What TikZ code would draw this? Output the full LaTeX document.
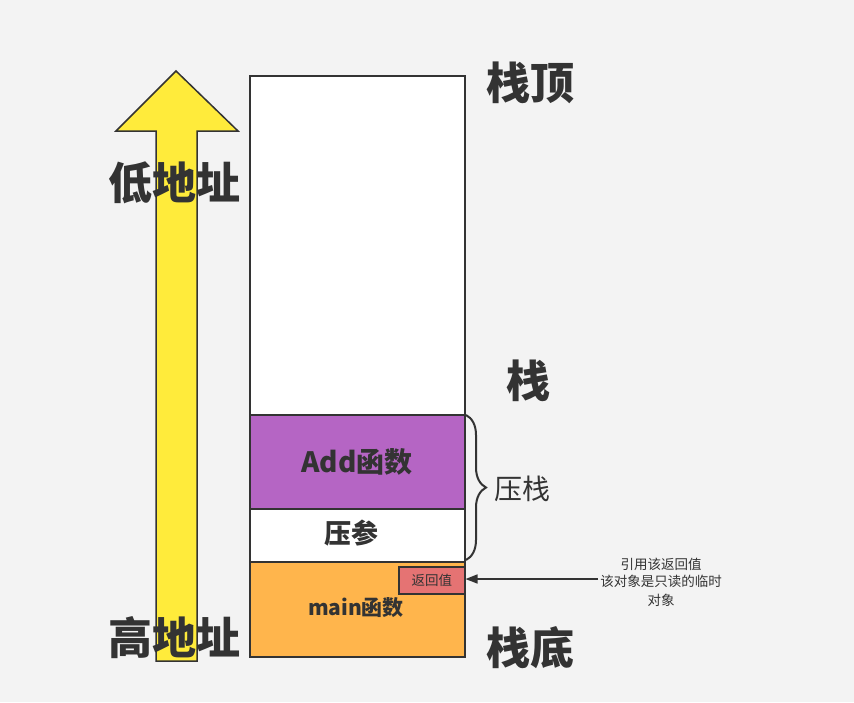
\documentclass[tikz,border=0pt]{standalone}
\usepackage{fontspec}
\setmainfont{Noto Sans CJK SC}
\usetikzlibrary{decorations.pathreplacing,arrows.meta}
\definecolor{bg}{HTML}{F3F3F3}
\definecolor{ink}{HTML}{333333}
\definecolor{arrowyellow}{HTML}{FFEB3B}
\definecolor{addpurple}{HTML}{B565C4}
\definecolor{mainorange}{HTML}{FFB54C}
\definecolor{retred}{HTML}{E57373}
\newcommand{\fs}[1]{\fontsize{#1}{#1}\selectfont}
\tikzset{
  frame/.style={draw=ink, line width=2pt, minimum width=215pt, inner sep=0pt, anchor=north west},
  biglabel/.style={text=ink, font=\fs{44}\bfseries, inner sep=0pt},
  boxlabel/.style={text=ink, font=\fs{27}\bfseries, inner sep=0pt},
  note/.style={text=ink, font=\fs{13.5}, inner sep=0pt, align=center}
}
\begin{document}
\begin{tikzpicture}[x=1pt,y=-1pt]
  \fill[bg] (0,0) rectangle (854,702);
  \useasboundingbox (0,0) rectangle (854,702);

  % direction arrow: from high address up to low address
  \draw[ink, line width=1.5pt, fill=arrowyellow, line join=miter]
    (176,71) -- (238,131) -- (197,131) -- (197,661) -- (156,661) -- (156,131) -- (116,131) -- cycle;

  % stack frame regions
  \node[frame, fill=white, minimum height=339pt] (free) at (249,75) {};
  \node[frame, fill=addpurple, minimum height=94pt] (add) at (249,414) {};
  \node[frame, fill=white, minimum height=53pt] (param) at (249,508) {};
  \node[frame, fill=mainorange, minimum height=95pt] (main) at (249,561) {};
  \node[draw=ink, line width=1.5pt, fill=retred, minimum width=66pt, minimum height=27pt,
        inner sep=0pt, anchor=north west, text=ink, font=\fs{13.5}] (ret) at (398,566) {返回值};

  \node[boxlabel, font=\fs{28}\bfseries] at (357,462) {Add函数};
  \node[boxlabel] at (351,533) {压参};
  \node[text=ink, font=\fs{21}\bfseries, inner sep=0pt] at (356,608) {main函数};

  % side labels
  \node[biglabel] (low) at (174,183) {低地址};
  \node[biglabel] (high) at (174,638) {高地址};
  \node[biglabel] (top) at (530,83) {栈顶};
  \node[biglabel] (stk) at (528,381) {栈};
  \node[biglabel] (bottom) at (530,648) {栈底};

  % brace over the pushed frames
  \draw[ink, line width=2pt, decorate, decoration={brace, amplitude=20pt, raise=0pt}]
    (466,415) -- (466,560);
  \node[text=ink, font=\fs{28}, inner sep=0pt] (push) at (522,489) {压栈};

  % note pointing at the return value
  \node[note] (noteA) at (661,564) {引用该返回值};
  \node[note] (noteB) at (661,581) {该对象是只读的临时};
  \node[note] (noteC) at (661,600) {对象};
  \coordinate (tail) at (598,579);
  \draw[ink, line width=1.5pt, -{Triangle[length=12pt,width=9pt]}] (tail) -- (ret.east |- tail);
\end{tikzpicture}
\end{document}
